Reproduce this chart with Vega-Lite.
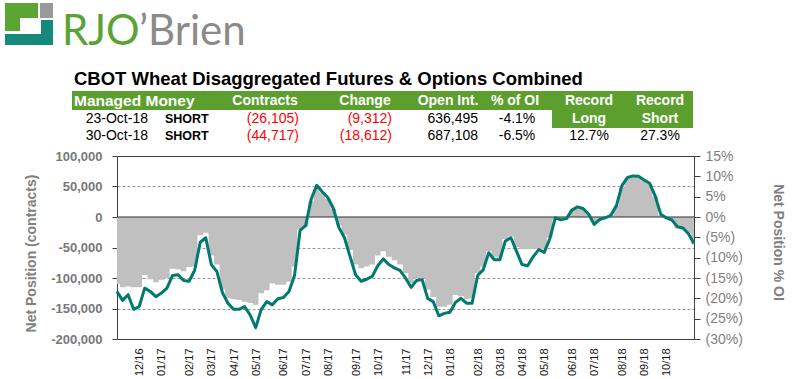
{
  "$schema": "https://vega.github.io/schema/vega-lite/v6.json",
  "width": 577,
  "height": 183,
  "autosize": {"type": "none"},
  "padding": {"left": 117, "top": 156, "right": 98, "bottom": 40},
  "background": "white",
  "config": {
    "view": {"stroke": "#404040", "strokeWidth": 1},
    "font": "Liberation Sans",
    "axis": {"labelFont": "Liberation Sans", "titleFont": "Liberation Sans"}
  },
  "datasets": {
    "cot": [
      {"date": "2016-11-01", "contracts": -110000, "pct": -18.3},
      {"date": "2016-11-08", "contracts": -115000, "pct": -20.5},
      {"date": "2016-11-15", "contracts": -114000, "pct": -19.1},
      {"date": "2016-11-22", "contracts": -115000, "pct": -22.7},
      {"date": "2016-11-29", "contracts": -115000, "pct": -22.0},
      {"date": "2016-12-06", "contracts": -95000, "pct": -17.5},
      {"date": "2016-12-13", "contracts": -102000, "pct": -18.3},
      {"date": "2016-12-20", "contracts": -107000, "pct": -19.6},
      {"date": "2016-12-27", "contracts": -103000, "pct": -18.7},
      {"date": "2017-01-03", "contracts": -100000, "pct": -17.5},
      {"date": "2017-01-10", "contracts": -85000, "pct": -14.4},
      {"date": "2017-01-17", "contracts": -86000, "pct": -14.2},
      {"date": "2017-01-24", "contracts": -89000, "pct": -15.6},
      {"date": "2017-01-31", "contracts": -82000, "pct": -15.8},
      {"date": "2017-02-07", "contracts": -81000, "pct": -13.1},
      {"date": "2017-02-14", "contracts": -30000, "pct": -6.2},
      {"date": "2017-02-21", "contracts": -26000, "pct": -5.1},
      {"date": "2017-02-28", "contracts": -63000, "pct": -11.7},
      {"date": "2017-03-07", "contracts": -78000, "pct": -13.4},
      {"date": "2017-03-14", "contracts": -119000, "pct": -18.6},
      {"date": "2017-03-21", "contracts": -133000, "pct": -21.2},
      {"date": "2017-03-28", "contracts": -135000, "pct": -22.7},
      {"date": "2017-04-04", "contracts": -136000, "pct": -22.7},
      {"date": "2017-04-11", "contracts": -139000, "pct": -22.0},
      {"date": "2017-04-18", "contracts": -141000, "pct": -24.1},
      {"date": "2017-04-25", "contracts": -144000, "pct": -27.2},
      {"date": "2017-05-02", "contracts": -125000, "pct": -22.7},
      {"date": "2017-05-09", "contracts": -120000, "pct": -20.8},
      {"date": "2017-05-16", "contracts": -109000, "pct": -21.6},
      {"date": "2017-05-23", "contracts": -111000, "pct": -20.1},
      {"date": "2017-05-30", "contracts": -111000, "pct": -19.8},
      {"date": "2017-06-06", "contracts": -106000, "pct": -18.3},
      {"date": "2017-06-13", "contracts": -81000, "pct": -14.4},
      {"date": "2017-06-20", "contracts": -20000, "pct": -3.3},
      {"date": "2017-06-27", "contracts": -16000, "pct": -2.1},
      {"date": "2017-07-04", "contracts": 26000, "pct": 4.4},
      {"date": "2017-07-11", "contracts": 51000, "pct": 7.8},
      {"date": "2017-07-18", "contracts": 40000, "pct": 6.2},
      {"date": "2017-07-25", "contracts": 30000, "pct": 4.8},
      {"date": "2017-08-01", "contracts": 13000, "pct": 2.1},
      {"date": "2017-08-08", "contracts": -14000, "pct": -2.6},
      {"date": "2017-08-15", "contracts": -29000, "pct": -5.1},
      {"date": "2017-08-22", "contracts": -54000, "pct": -9.7},
      {"date": "2017-08-29", "contracts": -78000, "pct": -14.2},
      {"date": "2017-09-05", "contracts": -84000, "pct": -15.8},
      {"date": "2017-09-12", "contracts": -81000, "pct": -15.3},
      {"date": "2017-09-19", "contracts": -78000, "pct": -14.6},
      {"date": "2017-09-26", "contracts": -63000, "pct": -12.0},
      {"date": "2017-10-03", "contracts": -56000, "pct": -10.3},
      {"date": "2017-10-10", "contracts": -65000, "pct": -11.7},
      {"date": "2017-10-17", "contracts": -71000, "pct": -12.5},
      {"date": "2017-10-24", "contracts": -78000, "pct": -13.1},
      {"date": "2017-10-31", "contracts": -92000, "pct": -15.0},
      {"date": "2017-11-07", "contracts": -108000, "pct": -17.3},
      {"date": "2017-11-14", "contracts": -100000, "pct": -15.6},
      {"date": "2017-11-21", "contracts": -100000, "pct": -15.4},
      {"date": "2017-11-28", "contracts": -119000, "pct": -20.0},
      {"date": "2017-12-05", "contracts": -131000, "pct": -20.8},
      {"date": "2017-12-12", "contracts": -147000, "pct": -24.3},
      {"date": "2017-12-19", "contracts": -147000, "pct": -23.7},
      {"date": "2017-12-26", "contracts": -144000, "pct": -23.4},
      {"date": "2018-01-02", "contracts": -128000, "pct": -21.0},
      {"date": "2018-01-09", "contracts": -130000, "pct": -20.0},
      {"date": "2018-01-16", "contracts": -135000, "pct": -21.2},
      {"date": "2018-01-23", "contracts": -133000, "pct": -21.2},
      {"date": "2018-01-30", "contracts": -92000, "pct": -14.4},
      {"date": "2018-02-06", "contracts": -81000, "pct": -13.0},
      {"date": "2018-02-13", "contracts": -56000, "pct": -8.8},
      {"date": "2018-02-20", "contracts": -65000, "pct": -10.5},
      {"date": "2018-02-27", "contracts": -67000, "pct": -10.5},
      {"date": "2018-03-06", "contracts": -36000, "pct": -5.9},
      {"date": "2018-03-13", "contracts": -32000, "pct": -5.1},
      {"date": "2018-03-20", "contracts": -49000, "pct": -8.4},
      {"date": "2018-03-27", "contracts": -53000, "pct": -11.7},
      {"date": "2018-04-03", "contracts": -53000, "pct": -12.0},
      {"date": "2018-04-10", "contracts": -52000, "pct": -9.8},
      {"date": "2018-04-17", "contracts": -52000, "pct": -8.0},
      {"date": "2018-04-24", "contracts": -53000, "pct": -8.7},
      {"date": "2018-05-01", "contracts": -34000, "pct": -5.4},
      {"date": "2018-05-08", "contracts": -4000, "pct": -0.2},
      {"date": "2018-05-15", "contracts": -4000, "pct": -0.7},
      {"date": "2018-05-22", "contracts": -4000, "pct": -0.4},
      {"date": "2018-05-29", "contracts": 11000, "pct": 1.7},
      {"date": "2018-06-05", "contracts": 15000, "pct": 2.5},
      {"date": "2018-06-12", "contracts": 14000, "pct": 2.1},
      {"date": "2018-06-19", "contracts": 4000, "pct": 0.7},
      {"date": "2018-06-26", "contracts": -10000, "pct": -1.8},
      {"date": "2018-07-03", "contracts": -4000, "pct": -0.6},
      {"date": "2018-07-10", "contracts": -1000, "pct": -0.2},
      {"date": "2018-07-17", "contracts": 3000, "pct": 0.4},
      {"date": "2018-07-24", "contracts": 19000, "pct": 2.7},
      {"date": "2018-07-31", "contracts": 51000, "pct": 7.7},
      {"date": "2018-08-07", "contracts": 64000, "pct": 9.7},
      {"date": "2018-08-14", "contracts": 68000, "pct": 10.1},
      {"date": "2018-08-21", "contracts": 66000, "pct": 10.0},
      {"date": "2018-08-28", "contracts": 59000, "pct": 9.1},
      {"date": "2018-09-04", "contracts": 54000, "pct": 8.3},
      {"date": "2018-09-11", "contracts": 34000, "pct": 5.2},
      {"date": "2018-09-18", "contracts": 3000, "pct": 0.7},
      {"date": "2018-09-25", "contracts": -3000, "pct": -0.2},
      {"date": "2018-10-02", "contracts": -7000, "pct": -0.7},
      {"date": "2018-10-09", "contracts": -19000, "pct": -2.4},
      {"date": "2018-10-16", "contracts": -20000, "pct": -2.7},
      {"date": "2018-10-23", "contracts": -26105, "pct": -4.1},
      {"date": "2018-10-30", "contracts": -44717, "pct": -6.5}
    ],
    "zero": [{"level": 0}],
    "table": [
      {"row": -1, "cell": 0, "text": "CBOT Wheat Disaggregated Futures & Options Combined", "part": "title"},
      {"row": 0, "cell": 0, "text": "Managed Money", "part": "header"},
      {"row": 0, "cell": 2, "text": "Contracts", "part": "header"},
      {"row": 0, "cell": 3, "text": "Change", "part": "header"},
      {"row": 0, "cell": 4, "text": "Open Int.", "part": "header"},
      {"row": 0, "cell": 5, "text": "% of OI", "part": "header"},
      {"row": 0, "cell": 6, "text": "Record", "part": "header"},
      {"row": 0, "cell": 7, "text": "Record", "part": "header"},
      {"row": 1, "cell": 6, "text": "Long", "part": "header"},
      {"row": 1, "cell": 7, "text": "Short", "part": "header"},
      {"row": 1, "cell": 0, "text": "23-Oct-18", "part": "date", "neg": "no"},
      {"row": 1, "cell": 1, "text": "SHORT", "part": "position"},
      {"row": 1, "cell": 2, "text": "(26,105)", "part": "value", "neg": "yes"},
      {"row": 1, "cell": 3, "text": "(9,312)", "part": "value", "neg": "yes"},
      {"row": 1, "cell": 4, "text": "636,495", "part": "value", "neg": "no"},
      {"row": 1, "cell": 5, "text": "-4.1%", "part": "percent"},
      {"row": 2, "cell": 0, "text": "30-Oct-18", "part": "date", "neg": "no"},
      {"row": 2, "cell": 1, "text": "SHORT", "part": "position"},
      {"row": 2, "cell": 2, "text": "(44,717)", "part": "value", "neg": "yes"},
      {"row": 2, "cell": 3, "text": "(18,612)", "part": "value", "neg": "yes"},
      {"row": 2, "cell": 4, "text": "687,108", "part": "value", "neg": "no"},
      {"row": 2, "cell": 5, "text": "-6.5%", "part": "percent"},
      {"row": 2, "cell": 6, "text": "12.7%", "part": "percent"},
      {"row": 2, "cell": 7, "text": "27.3%", "part": "percent"}
    ],
    "bands": [
      {"c0": 0, "c1": 8, "r0": 0, "r1": 1},
      {"c0": 6, "c1": 8, "r0": 1, "r1": 2}
    ],
    "logo": [
      {"piece": "green", "c0": 0, "c1": 2, "r0": 0, "r1": 1},
      {"piece": "green", "c0": 0, "c1": 1, "r0": 1, "r1": 3},
      {"piece": "gray", "c0": 3, "c1": 5, "r0": 0, "r1": 1},
      {"piece": "teal", "c0": 4, "c1": 5, "r0": 2, "r1": 5},
      {"piece": "teal", "c0": 0, "c1": 5, "r0": 4, "r1": 5}
    ],
    "brand": [
      {"word": "RJO"},
      {"word": "’Brien"}
    ]
  },
  "layer": [
    {
      "data": {"name": "bands"},
      "mark": {"type": "rect", "color": "#5c9f2e"},
      "encoding": {
        "x": {"field": "c0", "type": "quantitative", "scale": {"domain": [0, 1, 2, 3, 4, 5, 6, 7, 8], "range": [-45, 35, 105, 188, 281, 367, 435, 506, 576], "nice": false, "zero": false}, "axis": null},
        "x2": {"field": "c1"},
        "y": {"field": "r0", "type": "quantitative", "scale": {"domain": [0, 1, 2], "range": [-65, -46, -28], "nice": false, "zero": false}, "axis": null},
        "y2": {"field": "r1"}
      }
    },
    {
      "data": {"name": "cot"},
      "mark": {"type": "area", "interpolate": "step", "color": "#c0c0c0"},
      "encoding": {
        "x": {
          "field": "date", "type": "temporal",
          "scale": {"type": "utc", "domain": [{"year": 2016, "month": 11, "date": 1, "utc": true}, {"year": 2018, "month": 10, "date": 30, "utc": true}]},
          "axis": {
            "orient": "bottom",
            "values": [
              {"year": 2016, "month": 12, "date": 6, "utc": true},
              {"year": 2017, "month": 1, "date": 3, "utc": true},
              {"year": 2017, "month": 2, "date": 7, "utc": true},
              {"year": 2017, "month": 3, "date": 7, "utc": true},
              {"year": 2017, "month": 4, "date": 4, "utc": true},
              {"year": 2017, "month": 5, "date": 2, "utc": true},
              {"year": 2017, "month": 6, "date": 6, "utc": true},
              {"year": 2017, "month": 7, "date": 4, "utc": true},
              {"year": 2017, "month": 8, "date": 1, "utc": true},
              {"year": 2017, "month": 9, "date": 5, "utc": true},
              {"year": 2017, "month": 10, "date": 3, "utc": true},
              {"year": 2017, "month": 11, "date": 7, "utc": true},
              {"year": 2017, "month": 12, "date": 5, "utc": true},
              {"year": 2018, "month": 1, "date": 2, "utc": true},
              {"year": 2018, "month": 2, "date": 6, "utc": true},
              {"year": 2018, "month": 3, "date": 6, "utc": true},
              {"year": 2018, "month": 4, "date": 3, "utc": true},
              {"year": 2018, "month": 5, "date": 1, "utc": true},
              {"year": 2018, "month": 6, "date": 5, "utc": true},
              {"year": 2018, "month": 7, "date": 3, "utc": true},
              {"year": 2018, "month": 8, "date": 7, "utc": true},
              {"year": 2018, "month": 9, "date": 4, "utc": true},
              {"year": 2018, "month": 10, "date": 2, "utc": true}
            ],
            "labelExpr": "utcFormat(datum.value, '%m/%y')",
            "labelAngle": 270, "labelFontSize": 11, "labelColor": "#111111",
            "labelPadding": 9, "ticks": false, "tickSize": 0, "domain": false, "grid": false,
            "title": null, "labelOffset": -5, "labelOverlap": false, "labelFlush": false
          }
        },
        "y": {
          "field": "contracts", "type": "quantitative",
          "scale": {"domain": [-200000, 100000], "nice": false, "zero": false},
          "axis": {
            "orient": "left",
            "values": [-200000, -150000, -100000, -50000, 0, 50000, 100000],
            "labelExpr": "replace(format(datum.value, ','), '−', '-')",
            "labelFontSize": 13, "labelFontWeight": "bold", "labelColor": "#787878",
            "labelPadding": 10, "tickSize": 5, "tickColor": "#404040", "domainColor": "#404040",
            "grid": true, "gridColor": "#9a9a9a", "gridDash": [3, 2],
            "gridOpacity": {"condition": {"test": "datum.value === 100000 || datum.value === -200000 || datum.value === 0", "value": 0}, "value": 1},
            "title": "Net Position (contracts)", "titleFontSize": 14, "titleFontWeight": "bold",
            "titleColor": "#808080", "titlePadding": 12, "titleY": 97
          }
        },
        "y2": {"datum": 0}
      }
    },
    {
      "data": {"name": "zero"},
      "mark": {"type": "rule", "color": "#303030", "strokeWidth": 1.2},
      "encoding": {
        "y": {"field": "level", "type": "quantitative", "scale": {"domain": [-200000, 100000], "nice": false, "zero": false}, "axis": null}
      }
    },
    {
      "data": {"name": "cot"},
      "mark": {"type": "line", "color": "#007a6e", "strokeWidth": 3, "strokeJoin": "round"},
      "encoding": {
        "x": {
          "field": "date", "type": "temporal",
          "scale": {"type": "utc", "domain": [{"year": 2016, "month": 11, "date": 1, "utc": true}, {"year": 2018, "month": 10, "date": 30, "utc": true}]},
          "axis": null
        },
        "y": {
          "field": "pct", "type": "quantitative",
          "scale": {"domain": [-30, 15], "nice": false, "zero": false},
          "axis": {
            "orient": "right",
            "values": [-30, -25, -20, -15, -10, -5, 0, 5, 10, 15],
            "labelExpr": "datum.value < 0 ? '(' + (-datum.value) + '%)' : datum.value + '%'",
            "labelFontSize": 14, "labelColor": "#808080", "labelPadding": 5,
            "tickSize": 6, "tickColor": "#404040", "domainColor": "#404040", "grid": false,
            "title": "Net Position % OI", "titleFontSize": 14, "titleFontWeight": "bold",
            "titleColor": "#808080", "titlePadding": 28, "titleY": 86, "titleAngle": 90
          }
        }
      }
    },
    {
      "data": {"name": "table"},
      "transform": [{"filter": "datum.part === 'title' || datum.part === 'position' || (datum.part === 'header' && datum.cell === 0)"}],
      "mark": {"type": "text", "align": "left", "baseline": "middle", "fontWeight": "bold", "font": "Liberation Sans"},
      "encoding": {
        "x": {"field": "cell", "type": "quantitative", "scale": {"domain": [0, 1], "range": [-43, 48], "nice": false, "zero": false}, "axis": null},
        "y": {"field": "row", "type": "quantitative", "scale": {"domain": [-1, 0, 1, 2], "range": [-77.5, -55, -37, -20], "nice": false, "zero": false}, "axis": null},
        "text": {"field": "text"},
        "color": {"field": "part", "type": "nominal", "scale": {"domain": ["title", "header", "position"], "range": ["#000000", "#ffffff", "#000000"]}, "legend": null},
        "size": {"field": "part", "type": "nominal", "scale": {"domain": ["title", "header", "position"], "range": [18.5, 12.5, 12.5]}, "legend": null}
      }
    },
    {
      "data": {"name": "table"},
      "transform": [{"filter": "datum.part === 'header' && datum.cell > 0"}],
      "mark": {"type": "text", "align": "center", "baseline": "middle", "fontWeight": "bold", "font": "Liberation Sans", "fontSize": 14, "color": "#ffffff"},
      "encoding": {
        "x": {"field": "cell", "type": "quantitative", "scale": {"domain": [0, 1, 2, 3, 4, 5, 6, 7], "range": [-5, 70, 148, 248, 331, 398, 472, 543], "nice": false, "zero": false}, "axis": null},
        "y": {"field": "row", "type": "quantitative", "scale": {"domain": [-1, 0, 1, 2], "range": [-77.5, -55, -37, -20], "nice": false, "zero": false}, "axis": null},
        "text": {"field": "text"}
      }
    },
    {
      "data": {"name": "table"},
      "transform": [{"filter": "datum.part === 'date' || datum.part === 'value'"}],
      "mark": {"type": "text", "align": "right", "baseline": "middle", "font": "Liberation Sans", "fontSize": 14},
      "encoding": {
        "x": {"field": "cell", "type": "quantitative", "scale": {"domain": [0, 1, 2, 3, 4], "range": [31, 103, 182, 275, 361], "nice": false, "zero": false}, "axis": null},
        "y": {"field": "row", "type": "quantitative", "scale": {"domain": [-1, 0, 1, 2], "range": [-77.5, -55, -37, -20], "nice": false, "zero": false}, "axis": null},
        "text": {"field": "text"},
        "color": {"field": "neg", "type": "nominal", "scale": {"domain": ["yes", "no"], "range": ["#ff0000", "#000000"]}, "legend": null}
      }
    },
    {
      "data": {"name": "table"},
      "transform": [{"filter": "datum.part === 'percent'"}],
      "mark": {"type": "text", "align": "center", "baseline": "middle", "font": "Liberation Sans", "fontSize": 14, "color": "#000000"},
      "encoding": {
        "x": {"field": "cell", "type": "quantitative", "scale": {"domain": [0, 1, 2, 3, 4, 5, 6, 7], "range": [-5, 70, 148, 248, 331, 400, 472, 543], "nice": false, "zero": false}, "axis": null},
        "y": {"field": "row", "type": "quantitative", "scale": {"domain": [-1, 0, 1, 2], "range": [-77.5, -55, -37, -20], "nice": false, "zero": false}, "axis": null},
        "text": {"field": "text"}
      }
    },
    {
      "data": {"name": "logo"},
      "mark": {"type": "rect"},
      "encoding": {
        "x": {"field": "c0", "type": "quantitative", "scale": {"domain": [0, 1, 2, 3, 4, 5], "range": [-112, -97, -79, -77, -76, -64], "nice": false, "zero": false}, "axis": null},
        "x2": {"field": "c1"},
        "y": {"field": "r0", "type": "quantitative", "scale": {"domain": [0, 1, 2, 3, 4, 5], "range": [-153, -138, -136, -125, -122, -111], "nice": false, "zero": false}, "axis": null},
        "y2": {"field": "r1"},
        "color": {"field": "piece", "type": "nominal", "scale": {"domain": ["green", "gray", "teal"], "range": ["#5ba533", "#999999", "#17897a"]}, "legend": null}
      }
    },
    {
      "data": {"name": "brand"},
      "mark": {"type": "text", "align": "left", "baseline": "alphabetic", "font": "Lato", "fontSize": 42},
      "encoding": {
        "x": {"field": "word", "type": "nominal", "scale": {"type": "point", "domain": ["RJO", "’Brien"], "range": [-55, 22], "padding": 0}, "axis": null},
        "y": {"field": "word", "type": "nominal", "scale": {"type": "point", "domain": ["RJO", "’Brien"], "range": [-111, -111], "padding": 0}, "axis": null},
        "text": {"field": "word"},
        "color": {"field": "word", "type": "nominal", "scale": {"domain": ["RJO", "’Brien"], "range": ["#5aa332", "#8a8a8a"]}, "legend": null}
      }
    }
  ],
  "resolve": {
    "scale": {"x": "independent", "y": "independent", "color": "independent", "size": "independent"},
    "axis": {"x": "independent", "y": "independent"}
  }
}
